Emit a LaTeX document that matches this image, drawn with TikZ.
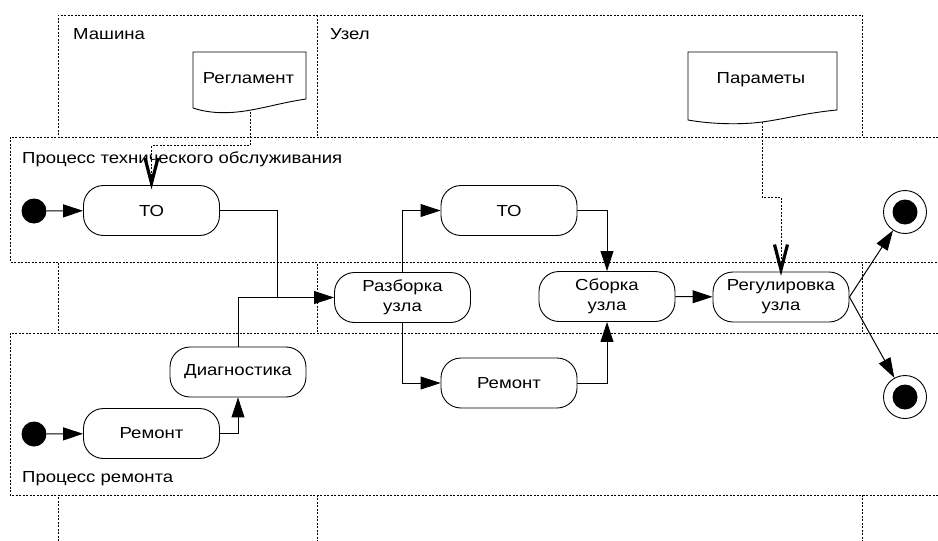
\documentclass[tikz,border=0pt]{standalone}
\usepackage{fontspec}
\setmainfont{Liberation Sans}[FakeStretch=1.16]
\usetikzlibrary{arrows.meta,calc}
\begin{document}
\begin{tikzpicture}[x=1pt,y=-1pt,
  every node/.style={font=\fontsize{16}{20}\selectfont},
  lane/.style={line width=0.8pt, dash pattern=on 2pt off 1.5pt},
  act/.style={draw, line width=0.9pt, rounded corners=20pt, minimum width=136pt,
    minimum height=50pt, fill=white, align=center, inner sep=0pt},
  flow/.style={line width=1pt, -{Triangle[length=20pt,width=13pt]}},
  dep/.style={lane},
  vtip/.style={line width=3.2pt, line join=miter, miter limit=20},
  initst/.style={circle, fill=black, minimum size=25pt, inner sep=0pt},
  finst/.style={circle, draw, line width=0.9pt, minimum size=43pt, inner sep=0pt, fill=white},
  doc/.style={draw, line width=0.9pt, fill=white},
  lbl/.style={anchor=base west, inner sep=0pt}]
\useasboundingbox (0,0) rectangle (938,541);
% swimlanes
\draw[lane] (58,541) -- (58,15) -- (862,15) -- (862,541);
\draw[lane] (317,15) -- (317,541);
\fill[white] (10,137) rectangle (938,262);
\draw[lane] (938,137) -- (10,137) -- (10,262) -- (938,262);
\fill[white] (10,333) rectangle (938,495);
\draw[lane] (938,333) -- (10,333) -- (10,495) -- (938,495);
\node[lbl] (lmash) at (73,39) {Машина};
\node[lbl] (luzel) at (330,39) {Узел};
\node[lbl] (lto) at (22,163) {Процесс технического обслуживания};
\node[lbl] (lrem) at (22,482) {Процесс ремонта};
% documents
\draw[doc] (193,108) -- (193,52) -- (306,52) -- (306,99)
  .. controls (280,103) and (265,108) .. (245,111)
  .. controls (225,114) and (208,113) .. (193,108) -- cycle;
\node (reg) at (248.5,78) {Регламент};
\coordinate (regout) at (250,111.5);
\draw[doc] (688,120) -- (688,52) -- (837,52) -- (837,110)
  .. controls (805,113) and (785,119) .. (762,122)
  .. controls (740,125) and (710,124) .. (688,120) -- cycle;
\node (par) at (761,80) {Параметы};
\coordinate (parout) at (762,122);
% activities
\node[act] (to1) at (151.5,210.5) {ТО};
\node[act] (to2) at (509,210.5) {ТО};
\node[act] (razb) at (402.5,297.5) {Разборка\\узла};
\node[act] (sbor) at (607,296.5) {Сборка\\узла};
\node[act] (regul) at (781,297) {Регулировка\\узла};
\node[act] (rem2) at (509,383) {Ремонт};
\node[act] (diag) at (238,372) {Диагностика};
\node[act] (rem1) at (151.5,433.5) {Ремонт};
\node[initst] (i1) at (34,211) {};
\node[initst] (i2) at (34,434) {};
\node[finst] (f1) at (905,212) {};
\fill (f1.center) circle (12.5pt);
\node[finst] (f2) at (905,397) {};
\fill (f2.center) circle (12.5pt);
\coordinate (join) at (277,297.5);
% flows
\draw[flow] (i1) -- (to1);
\draw[flow] (i2) -- (rem1);
\draw[line width=1pt] (to1.east) -| (join);
\draw[flow] (diag.north) |- (razb.west);
\draw[flow] (rem1.east) -| (diag.south);
\draw[flow] (razb.north) |- (to2.west);
\draw[flow] (razb.south) |- (rem2.west);
\draw[flow] (to2.east) -| (sbor.north);
\draw[flow] (rem2.east) -| (sbor.south);
\draw[flow] (sbor) -- (regul);
\draw[flow] (regul.east) -- (f1);
\draw[flow] (regul.east) -- (f2);
% dependencies
\draw[dep] (regout) -- ++(0,34) -| (to1.north);
\draw[vtip] ($(to1.north)+(-6.5,-27)$) -- ($(to1.north)+(0,-2)$) -- ($(to1.north)+(6.5,-27)$);
\draw[dep] (parout) -- ++(0,75) -| (regul.north);
\draw[vtip] ($(regul.north)+(-6.5,-27)$) -- ($(regul.north)+(0,-2)$) -- ($(regul.north)+(6.5,-27)$);
\end{tikzpicture}
\end{document}
